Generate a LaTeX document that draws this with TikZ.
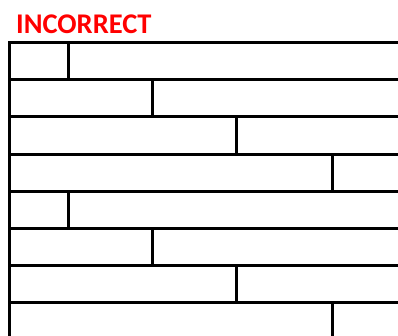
\documentclass[tikz,border=0pt]{standalone}
\usepackage{fontspec}
\setmainfont{Carlito}
\begin{document}
\begin{tikzpicture}[x=1pt, y=-1pt] % Escala en puntos, eje y hacia abajo

    % Marco fijo del dibujo
    \useasboundingbox (0,0) rectangle (398,335);

    % 1. Rótulo en rojo
    \node[anchor=base west, inner sep=0pt, text=red,
          font=\bfseries\fontsize{28.5}{30}\selectfont] (rotulo) at (16,33) {INCORRECT};

    % 2. Hiladas de ladrillos (recortadas por el borde derecho e inferior)
    \begin{scope}
        \clip (0,0) rectangle (398,335);
        \draw[line width=3pt] (8,42.5) -- (420,42.5);
        \draw[line width=3pt] (9.5,41) -- (9.5,360);
        % cada hilada: número y posición de la junta vertical
        \foreach \fila/\junta in {0/68,1/152,2/236,3/332,4/68,5/152,6/236,7/332} {
            \draw[line width=3pt] (9.5,42.5+37.2*\fila+37.2) -- ++(410,0);
            \draw[line width=3pt] (\junta,42.5+37.2*\fila) -- ++(0,37.2);
        }
    \end{scope}

\end{tikzpicture}
\end{document}
